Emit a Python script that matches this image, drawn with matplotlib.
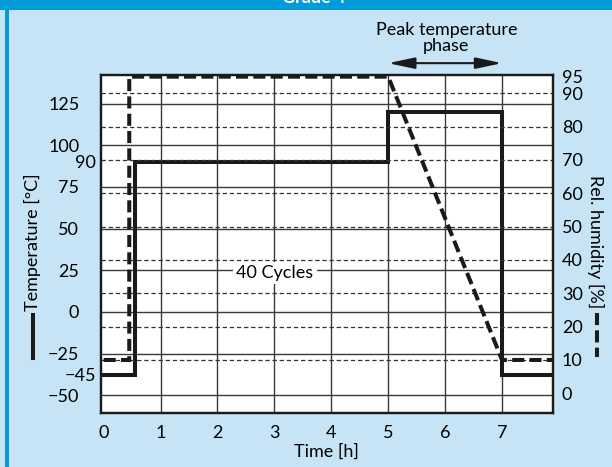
import numpy as np
import matplotlib
matplotlib.use("Agg")
import matplotlib.pyplot as plt
from matplotlib.ticker import FixedLocator, FixedFormatter
from matplotlib.lines import Line2D

# ---- data ----
temp_time = [0, 0.55, 0.55, 5, 5, 7, 7, 8]
temp_vals = [-45, -45, 90, 90, 120, 120, -45, -45]
hum_time = [0, 0.45, 0.45, 5, 7, 8]
hum_vals = [10, 10, 95, 95, 10, 10]
x_ticks = [0, 1, 2, 3, 4, 5, 6, 7]
temp_major = [125, 100, 75, 50, 25, 0, -25, -50]
temp_minor = [90, -45]
hum_ticks = [95, 90, 80, 70, 60, 50, 40, 30, 20, 10, 0]
hum_grid = [90, 80, 70, 60, 50, 40, 30, 20, 10]

BG = "#C6E4F5"
BLUE = "#009BD8"
FONT = "Lato"
FS = 13

plt.rcParams['font.family'] = [FONT, 'DejaVu Sans']

W, H = 612, 467
fig = plt.figure(figsize=(W / 100, H / 100), dpi=100, facecolor=BG)

def fx(px):
    return px / W

def fy(py):
    return 1 - py / H

# header bar and left strip
fig.patches.append(plt.Rectangle((0, fy(10)), 1, 10 / H, transform=fig.transFigure,
                                 facecolor=BLUE, edgecolor='none', zorder=0))
fig.patches.append(plt.Rectangle((fx(5), 0), 4 / W, 1, transform=fig.transFigure,
                                 facecolor=BLUE, edgecolor='none', zorder=0))
fig.text(fx(314), fy(3), "Grade 4", color='white', fontsize=13, fontweight='bold',
         ha='center', va='baseline')

left, right, top, bottom = 100.8, 552.7, 75, 413.3
ax = fig.add_axes([fx(left), fy(bottom), (right - left) / W, (bottom - top) / H])
ax.set_facecolor('white')

# schematic (piecewise linear) temperature scale
src = [-300, -50, -45, -25, 400]
dst = [-300, -50, -37.8, -25, 400]
fwd = lambda v: np.interp(v, src, dst)
inv = lambda v: np.interp(v, dst, src)
ax.set_yscale('function', functions=(fwd, inv))

ax.set_xlim(-0.05, 7.89)
ax.set_ylim(-60.8, 142.2)

ax2 = ax.twinx()
ax2.set_ylim(-6.0, 95.5)

# grid
ax.set_xticks(x_ticks)
ax.set_xticklabels([str(t) for t in x_ticks])
ax.yaxis.set_major_locator(FixedLocator(temp_major))
ax.yaxis.set_major_formatter(FixedFormatter([str(v).replace('-', '\u2212') for v in temp_major]))
ax.yaxis.set_minor_locator(FixedLocator(temp_minor))
ax.yaxis.set_minor_formatter(FixedFormatter([str(v).replace('-', '\u2212') for v in temp_minor]))
ax.grid(True, which='major', axis='both', color='#3a3a3a', lw=1.0)
ax.set_axisbelow(True)
ax.get_xgridlines()[0].set_visible(False)

for h in hum_grid:
    ax2.axhline(h, color='#333333', lw=0.9, ls=(0, (3.5, 2.2)), zorder=1)

ax2.set_yticks(hum_ticks)
ax2.set_yticklabels([str(v) for v in hum_ticks])

ax.tick_params(axis='y', which='major', length=0, pad=15.5, labelsize=FS)
ax.tick_params(axis='y', which='minor', length=0, pad=3.5, labelsize=FS)
ax.tick_params(axis='x', length=0, pad=8.5, labelsize=FS)
ax2.tick_params(axis='y', length=0, pad=6.5, labelsize=FS)

for a in (ax, ax2):
    for s in a.spines.values():
        s.set_linewidth(1.6)
        s.set_color('#1a1a1a')

# curves
ax.plot(temp_time, temp_vals, color='#1a1a1a', lw=2.9, solid_joinstyle='miter', zorder=3)
ax2.plot(hum_time, hum_vals, color='#1a1a1a', lw=2.9, ls=(0, (3.0, 1.3)),
         dash_joinstyle='miter', zorder=3)

ax2.text(3.01, 23.4, "40 Cycles", transform=ax.transData, fontsize=FS, ha='center',
         va='center', zorder=5,
         bbox=dict(facecolor='white', edgecolor='none', pad=2.5))

ax.set_xlabel("Time [h]", fontsize=FS, labelpad=2)

# peak temperature annotation
ax2.annotate('', xy=(5, 1.035), xytext=(7, 1.035),
             xycoords=('data', 'axes fraction'), textcoords=('data', 'axes fraction'),
             arrowprops=dict(arrowstyle='<|-|>,head_length=0.8,head_width=0.17',
                             color='#1a1a1a', lw=1.5, mutation_scale=20,
                             shrinkA=0, shrinkB=0),
             annotation_clip=False)
ax2.text(6.02, 1.109, "Peak temperature\nphase", transform=ax2.get_xaxis_transform(),
         fontsize=FS, ha='center', va='center', multialignment='center',
         linespacing=1.05, clip_on=False)

# axis labels with line keys
fig.text(fx(32), fy(242), "Temperature [°C]", rotation=90, fontsize=FS,
         ha='center', va='center')
fig.add_artist(Line2D([fx(33), fx(33)], [fy(315), fy(358)], color='#1a1a1a', lw=2.9,
                      transform=fig.transFigure))
fig.text(fx(596), fy(242), "Rel. humidity [%]", rotation=270, fontsize=FS,
         ha='center', va='center')
fig.add_artist(Line2D([fx(597), fx(597)], [fy(313), fy(357)], color='#1a1a1a', lw=2.9,
                      ls=(0, (3.0, 1.3)), transform=fig.transFigure))

fig.savefig("out.png", dpi=100, facecolor=BG)
